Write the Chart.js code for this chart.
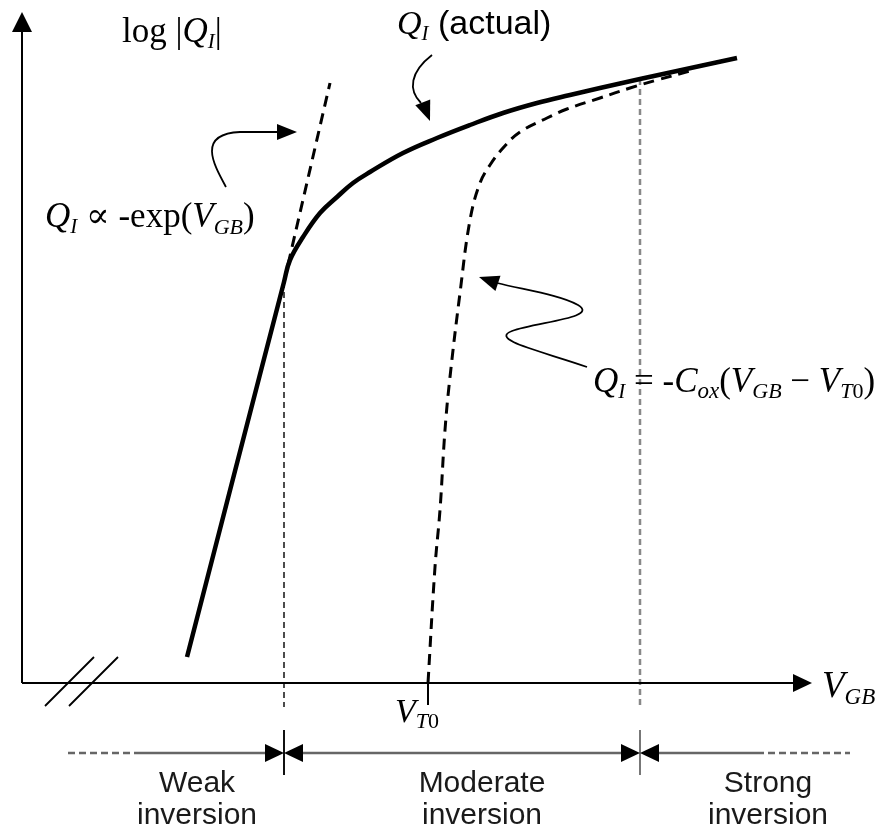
<!DOCTYPE html>
<html>
<head>
<meta charset="utf-8">
<script src="https://cdn.jsdelivr.net/npm/chart.js@4.4.0/dist/chart.umd.min.js"></script>
<style>
  html, body { margin: 0; padding: 0; background: #fff; }
  canvas { display: block; }
</style>
</head>
<body>
<canvas id="myChart" width="887" height="836"></canvas>
<script>
    // inversion charge vs gate voltage (arbitrary units, log scale on y)
    const actualV = [1.65, 2.13, 2.62, 2.68, 2.81, 2.98, 3.15, 3.31, 3.48, 3.81, 4.15, 4.48, 4.81, 5.15, 5.48, 5.78, 6.18, 6.78, 7.15];
    const actualQ = [0.26, 2.12, 4.01, 4.23, 4.46, 4.70, 4.86, 5.00, 5.11, 5.30, 5.45, 5.58, 5.70, 5.80, 5.88, 5.95, 6.04, 6.17, 6.25];

    // weak inversion asymptote: Q ~ -exp(VGB)
    const expV = [2.62, 3.08];
    const expQ = [4.01, 6.00];

    // strong inversion asymptote: Q = -Cox(VGB - VT0)
    const coxV = [4.06, 4.13, 4.18, 4.23, 4.28, 4.38, 4.48, 4.58, 4.68, 4.81, 4.98, 5.25, 5.45, 5.78, 6.08, 6.35, 6.68];
    const coxQ = [0.00, 1.16, 1.73, 2.53, 3.06, 3.90, 4.63, 5.00, 5.18, 5.35, 5.51, 5.65, 5.74, 5.85, 5.95, 6.03, 6.12];

    // region boundaries and where they meet the actual curve
    const regionBounds = [2.62, 6.18];
    const boundTop = [4.01, 6.04];
    const vT0 = 4.06;
    const regionNames = [['Weak', 'inversion'], ['Moderate', 'inversion'], ['Strong', 'inversion']];

    const zip = (xs, ys) => xs.map((v, i) => ({ x: v, y: ys[i] }));

    const SERIF = '"Liberation Serif", "DejaVu Serif", serif';
    const SANS = '"Liberation Sans", Arial, sans-serif';

    function runs(ctx, x, y, parts) {
        let cx = x;
        parts.forEach(p => {
            ctx.font = p.f;
            ctx.fillText(p.t, cx, y + (p.dy || 0));
            cx += ctx.measureText(p.t).width;
        });
    }

    function head(ctx, tx, ty, ang, len, half) {
        ctx.save();
        ctx.translate(tx, ty);
        ctx.rotate(ang);
        ctx.beginPath();
        ctx.moveTo(0, 0);
        ctx.lineTo(-len, -half);
        ctx.lineTo(-len, half);
        ctx.closePath();
        ctx.fill();
        ctx.restore();
    }

    const diagram = {
        id: 'diagram',
        afterDatasetsDraw(chart) {
            const ctx = chart.ctx;
            const X = v => chart.scales.x.getPixelForValue(v);
            const Y = v => chart.scales.y.getPixelForValue(v);
            ctx.save();
            ctx.fillStyle = '#000';
            ctx.strokeStyle = '#000';

            // axes
            const x0 = X(0), y0 = Y(0);
            ctx.lineWidth = 2;
            ctx.beginPath();
            ctx.moveTo(x0, y0); ctx.lineTo(x0, Y(6.55));
            ctx.moveTo(x0, y0); ctx.lineTo(X(7.75), y0);
            ctx.stroke();
            head(ctx, x0, Y(6.71), -Math.PI / 2, 20, 10);
            head(ctx, X(7.9), y0, 0, 19, 9);

            // axis break
            ctx.lineWidth = 1.8;
            ctx.beginPath();
            ctx.moveTo(45, 706); ctx.lineTo(94, 657);
            ctx.moveTo(69, 706); ctx.lineTo(118, 657);
            ctx.stroke();

            // VT0 tick
            ctx.lineWidth = 2;
            ctx.beginPath();
            ctx.moveTo(X(vT0), y0); ctx.lineTo(X(vT0), Y(-0.22));
            ctx.stroke();

            // region row
            const yr = Y(-0.70);
            const b0 = X(regionBounds[0]), b1 = X(regionBounds[1]);
            ctx.strokeStyle = '#666';
            ctx.lineWidth = 2.5;
            ctx.setLineDash([7, 4]);
            ctx.beginPath();
            ctx.moveTo(X(0.46), yr); ctx.lineTo(X(1.18), yr);
            ctx.moveTo(X(7.35), yr); ctx.lineTo(X(8.28), yr);
            ctx.stroke();
            ctx.setLineDash([]);
            ctx.beginPath();
            ctx.moveTo(X(1.18), yr); ctx.lineTo(b0 - 10, yr);
            ctx.moveTo(b0 + 10, yr); ctx.lineTo(b1 - 10, yr);
            ctx.moveTo(b1 + 10, yr); ctx.lineTo(X(7.35), yr);
            ctx.stroke();
            ctx.lineWidth = 2;
            ctx.strokeStyle = '#111';
            ctx.beginPath();
            ctx.moveTo(b0, Y(-0.47)); ctx.lineTo(b0, Y(-0.92));
            ctx.stroke();
            ctx.strokeStyle = '#777';
            ctx.beginPath();
            ctx.moveTo(b1, Y(-0.47)); ctx.lineTo(b1, Y(-0.92));
            ctx.stroke();
            [b0, b1].forEach(b => {
                head(ctx, b, yr, 0, 19, 9);
                head(ctx, b, yr, Math.PI, 19, 9);
            });

            // callout arrows
            ctx.strokeStyle = '#000';
            ctx.lineWidth = 1.8;
            ctx.beginPath();
            ctx.moveTo(226, 187);
            ctx.bezierCurveTo(214, 165, 196, 134, 240, 132);
            ctx.lineTo(280, 132);
            ctx.stroke();
            head(ctx, 297, 132, 0, 20, 8);

            ctx.beginPath();
            ctx.moveTo(432, 55);
            ctx.bezierCurveTo(410, 72, 408, 90, 421, 103);
            ctx.stroke();
            head(ctx, 430, 121, Math.atan2(18, 7), 20, 8);

            ctx.beginPath();
            ctx.moveTo(587, 367);
            ctx.bezierCurveTo(545, 352, 488, 340, 512, 331);
            ctx.bezierCurveTo(535, 322, 600, 318, 578, 305);
            ctx.bezierCurveTo(560, 295, 525, 290, 497, 283);
            ctx.stroke();
            head(ctx, 479, 277, Math.atan2(-6, -18), 20, 8);

            // math labels
            ctx.textAlign = 'left';
            ctx.textBaseline = 'alphabetic';
            const it = s => 'italic ' + s + 'px ' + SERIF;
            const rm = s => s + 'px ' + SERIF;
            runs(ctx, 122, 42, [
                { t: 'log |', f: rm(35) }, { t: 'Q', f: it(35) },
                { t: 'I', f: it(21), dy: 6 }, { t: '|', f: rm(35) }
            ]);
            runs(ctx, 397, 34, [
                { t: 'Q', f: it(34) }, { t: 'I', f: it(21), dy: 6 },
                { t: ' (actual)', f: '34px ' + SANS }
            ]);
            runs(ctx, 45, 227, [
                { t: 'Q', f: it(35) }, { t: 'I', f: it(21), dy: 6 },
                { t: ' \u221D -exp(', f: rm(35) }, { t: 'V', f: it(35) },
                { t: 'GB', f: it(22), dy: 7 }, { t: ')', f: rm(35) }
            ]);
            runs(ctx, 593, 392, [
                { t: 'Q', f: it(35) }, { t: 'I', f: it(21), dy: 6 },
                { t: ' = -', f: rm(35) }, { t: 'C', f: it(35) },
                { t: 'ox', f: it(23), dy: 6 }, { t: '(', f: rm(35) },
                { t: 'V', f: it(35) }, { t: 'GB', f: it(22), dy: 6 },
                { t: ' \u2212 ', f: rm(35) }, { t: 'V', f: it(35) },
                { t: 'T', f: it(22), dy: 6 }, { t: '0', f: rm(22), dy: 6 },
                { t: ')', f: rm(35) }
            ]);
            runs(ctx, 395, 722, [
                { t: 'V', f: it(34) }, { t: 'T', f: it(22), dy: 6 }, { t: '0', f: rm(22), dy: 6 }
            ]);
            runs(ctx, 822, 697, [
                { t: 'V', f: it(37) }, { t: 'GB', f: it(23), dy: 7 }
            ]);

            // region names
            ctx.fillStyle = '#1a1a1a';
            ctx.textAlign = 'center';
            ctx.font = '30px ' + SANS;
            const centers = [1.75, 4.60, 7.46];
            regionNames.forEach((lines, i) => {
                ctx.fillText(lines[0], X(centers[i]), 792);
                ctx.fillText(lines[1], X(centers[i]), 824);
            });
            ctx.restore();
        }
    };

    const ctx = document.getElementById('myChart').getContext('2d');
    const myChart = new Chart(ctx, {
        type: 'line',
        data: {
            datasets: [{
                label: 'QI (actual)',
                data: zip(actualV, actualQ),
                borderColor: '#000',
                borderWidth: 4.5,
                tension: 0.4,
                pointRadius: 0
            }, {
                label: 'QI ~ -exp(VGB)',
                data: zip(expV, expQ),
                borderColor: '#000',
                borderWidth: 3,
                borderDash: [11, 7],
                pointRadius: 0
            }, {
                label: 'QI = -Cox(VGB - VT0)',
                data: zip(coxV, coxQ),
                borderColor: '#000',
                borderWidth: 3,
                borderDash: [11, 7],
                tension: 0.4,
                pointRadius: 0
            }, {
                label: 'weak / moderate',
                data: [{ x: regionBounds[0], y: boundTop[0] }, { x: regionBounds[0], y: -0.24 }],
                borderColor: '#111',
                borderWidth: 1.5,
                borderDash: [6, 4],
                pointRadius: 0
            }, {
                label: 'moderate / strong',
                data: [{ x: regionBounds[1], y: boundTop[1] }, { x: regionBounds[1], y: -0.24 }],
                borderColor: '#888',
                borderWidth: 2.5,
                borderDash: [6, 4],
                pointRadius: 0
            }]
        },
        options: {
            responsive: false,
            animation: false,
            clip: false,
            layout: { padding: 0 },
            plugins: {
                legend: { display: false },
                tooltip: { enabled: false }
            },
            scales: {
                x: { type: 'linear', display: false, min: -0.22, max: 8.65 },
                y: { type: 'linear', display: false, min: -1.53, max: 6.83 }
            }
        },
        plugins: [diagram]
    });
</script>
</body>
</html>
